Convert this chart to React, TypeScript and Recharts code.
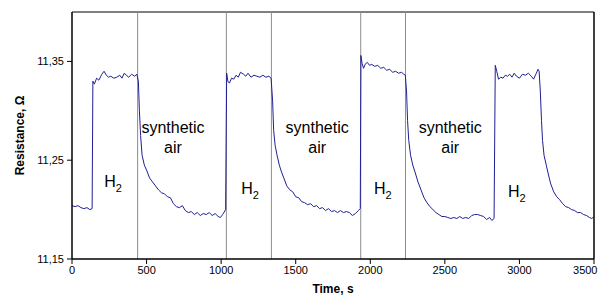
import React from 'react';
import { LineChart, Line, XAxis, YAxis, ReferenceLine, ReferenceDot, Label } from 'recharts';

// time in s
const times = [
  0, 20, 40, 60, 80, 100, 120, 135,
  140, 150, 165, 180, 200, 215, 230, 245, 260, 280, 300, 320, 335, 350, 365, 380, 400, 420, 435,
  445, 452, 460, 470, 485, 500, 520, 540, 560, 580, 600, 620, 640, 660, 680, 700, 720, 740, 760, 780,
  800, 820, 840, 860, 880, 900, 920, 940, 960, 980, 995, 1010, 1030,
  1037, 1045, 1055, 1070, 1085, 1100, 1115, 1130, 1150, 1165, 1180, 1200, 1220, 1240, 1260, 1280, 1300, 1320, 1335,
  1345, 1352, 1362, 1375, 1390, 1405, 1420, 1440, 1460, 1480, 1500, 1520, 1540, 1560, 1580, 1600, 1620, 1640,
  1660, 1680, 1700, 1720, 1740, 1760, 1780, 1800, 1820, 1840, 1860, 1880, 1900, 1920, 1933,
  1937, 1945, 1955, 1965, 1980, 1995, 2010, 2030, 2050, 2070, 2090, 2110, 2130, 2150, 2170, 2190, 2210, 2225, 2235,
  2243, 2250, 2258, 2270, 2285, 2300, 2320, 2340, 2360, 2380, 2400, 2420, 2440, 2460, 2480, 2500, 2520, 2540,
  2560, 2580, 2600, 2620, 2640, 2660, 2680, 2700, 2720, 2740, 2760, 2780, 2800, 2815, 2830,
  2838, 2848, 2860, 2875, 2890, 2905, 2920, 2935, 2950, 2965, 2980, 3000, 3020, 3040, 3060, 3080, 3095, 3110, 3125, 3132,
  3140, 3148, 3155, 3165, 3180, 3195, 3210, 3230, 3250, 3270, 3290, 3310, 3330, 3350, 3370, 3390, 3410, 3430,
  3450, 3470, 3485, 3500,
];

// resistance in Ohm
const resistance = [
  11.204, 11.203, 11.204, 11.202, 11.201, 11.202, 11.200, 11.201,
  11.330, 11.327, 11.333, 11.331, 11.337, 11.340, 11.336, 11.334, 11.335, 11.333, 11.334, 11.336, 11.333, 11.338, 11.336, 11.334, 11.337, 11.335, 11.337,
  11.330, 11.300, 11.275, 11.255, 11.245, 11.240, 11.232, 11.228, 11.224, 11.220, 11.217, 11.216, 11.213, 11.212, 11.206, 11.203, 11.202, 11.204, 11.199, 11.197,
  11.198, 11.195, 11.197, 11.194, 11.196, 11.195, 11.197, 11.194, 11.196, 11.193, 11.192, 11.195, 11.200,
  11.338, 11.330, 11.328, 11.333, 11.332, 11.336, 11.334, 11.339, 11.337, 11.335, 11.338, 11.334, 11.336, 11.335, 11.334, 11.336, 11.334, 11.335, 11.333,
  11.310, 11.280, 11.265, 11.255, 11.245, 11.238, 11.232, 11.224, 11.220, 11.218, 11.213, 11.212, 11.208, 11.207, 11.205, 11.206, 11.203, 11.204,
  11.201, 11.202, 11.199, 11.201, 11.198, 11.199, 11.197, 11.199, 11.197, 11.198, 11.197, 11.194, 11.196, 11.199, 11.201,
  11.356, 11.348, 11.343, 11.347, 11.349, 11.346, 11.347, 11.345, 11.346, 11.343, 11.344, 11.341, 11.342, 11.339, 11.340, 11.338, 11.339, 11.337, 11.336,
  11.320, 11.290, 11.270, 11.255, 11.245, 11.238, 11.228, 11.220, 11.212, 11.207, 11.203, 11.200, 11.197, 11.195, 11.193, 11.193, 11.192, 11.191,
  11.192, 11.191, 11.193, 11.191, 11.192, 11.191, 11.194, 11.195, 11.195, 11.194, 11.193, 11.190, 11.192, 11.189, 11.191,
  11.346, 11.340, 11.332, 11.334, 11.333, 11.336, 11.335, 11.337, 11.334, 11.338, 11.335, 11.333, 11.337, 11.336, 11.338, 11.335, 11.332, 11.337, 11.342, 11.340,
  11.320, 11.290, 11.270, 11.255, 11.245, 11.235, 11.226, 11.218, 11.213, 11.210, 11.206, 11.203, 11.202, 11.200, 11.199, 11.197, 11.197, 11.195,
  11.194, 11.192, 11.191, 11.193,
];

const xTicks = [0, 500, 1000, 1500, 2000, 2500, 3000, 3500];
const yTicks = [11.15, 11.25, 11.35];

// gas switching moments (s)
const switchTimes = [440, 1035, 1337, 1936, 2236];

// annotation anchors [time, resistance]
const airLabels = [[677, 11.273], [1644, 11.273], [2536, 11.273]];
const h2Labels = [[275, 11.223], [1194, 11.216], [2084, 11.216], [2982, 11.213]];

const data = times.map((t, i) => ({ t, r: resistance[i] }));

const FONT = '"Liberation Sans", Arial, sans-serif';

const AirText = (p: any) => (
  <text x={p.cx} y={p.cy} textAnchor="middle" fontFamily={FONT} fontSize={16} fill="#000">
    <tspan x={p.cx} dy={-4}>synthetic</tspan>
    <tspan x={p.cx} dy={20}>air</tspan>
  </text>
);

const H2Text = (p: any) => (
  <text x={p.cx} y={p.cy} textAnchor="middle" fontFamily={FONT} fontSize={16} fill="#000">
    H<tspan fontSize={11} dy={5}>2</tspan>
  </text>
);

// last label is pulled in so it stays inside the page
const XTick = (p: any) => {
  const last = p.payload.value === xTicks[xTicks.length - 1];
  return (
    <text
      x={last ? p.x + 3.5 : p.x}
      y={p.y}
      dy="0.71em"
      textAnchor={last ? 'end' : 'middle'}
      fontFamily={FONT}
      fontSize={11}
      fill="#000"
    >
      {p.payload.value}
    </text>
  );
};

export default function App() {
  return (
    <div style={{ fontFamily: FONT }}>
      <LineChart
        width={590}
        height={287}
        data={data}
        margin={{ top: 4, right: 4, bottom: 0, left: 0 }}
      >
        <XAxis
          dataKey="t"
          type="number"
          domain={[0, 3500]}
          ticks={xTicks}
          height={36}
          tickSize={5}
          tickMargin={2}
          interval={0}
          tick={XTick}
          axisLine={{ stroke: '#000', strokeWidth: 1.5 }}
          tickLine={{ stroke: '#000' }}
        >
          <Label
            content={({ viewBox }: any) => (
              <text
                x={viewBox.x + viewBox.width / 2}
                y={viewBox.y + 34}
                textAnchor="middle"
                fontFamily={FONT}
                fontWeight="bold"
                fontSize={12}
                fill="#000"
              >
                Time, s
              </text>
            )}
          />
        </XAxis>
        <YAxis
          type="number"
          domain={[11.15, 11.4]}
          ticks={yTicks}
          width={64}
          tickSize={5}
          tickMargin={3}
          tickFormatter={(v: number) => v.toFixed(2).replace('.', ',')}
          tick={{ fontSize: 11, fill: '#000', fontFamily: FONT }}
          axisLine={{ stroke: '#000', strokeWidth: 1.5 }}
          tickLine={{ stroke: '#000' }}
        >
          <Label
            content={({ viewBox }: any) => {
              const cx = viewBox.x + 12;
              const cy = viewBox.y + viewBox.height / 2;
              return (
                <text
                  x={cx}
                  y={cy}
                  transform={`rotate(-90 ${cx} ${cy})`}
                  textAnchor="middle"
                  dominantBaseline="central"
                  fontFamily={FONT}
                  fontWeight="bold"
                  fontSize={12}
                  fill="#000"
                >
                  Resistance, Ω
                </text>
              );
            }}
          />
        </YAxis>

        <ReferenceLine y={11.4} stroke="#000" strokeWidth={1} />
        <ReferenceLine x={3500} stroke="#000" strokeWidth={1.5} />
        {switchTimes.map((t) => (
          <ReferenceLine key={t} x={t} stroke="#8c8c8c" strokeWidth={1} />
        ))}

        {airLabels.map(([t, r]) => (
          <ReferenceDot key={'a' + t} x={t} y={r} r={0} shape={AirText} />
        ))}
        {h2Labels.map(([t, r]) => (
          <ReferenceDot key={'h' + t} x={t} y={r} r={0} shape={H2Text} />
        ))}

        <Line
          type="linear"
          dataKey="r"
          stroke="#1f1f94"
          strokeWidth={1}
          dot={false}
          isAnimationActive={false}
        />
      </LineChart>
    </div>
  );
}
